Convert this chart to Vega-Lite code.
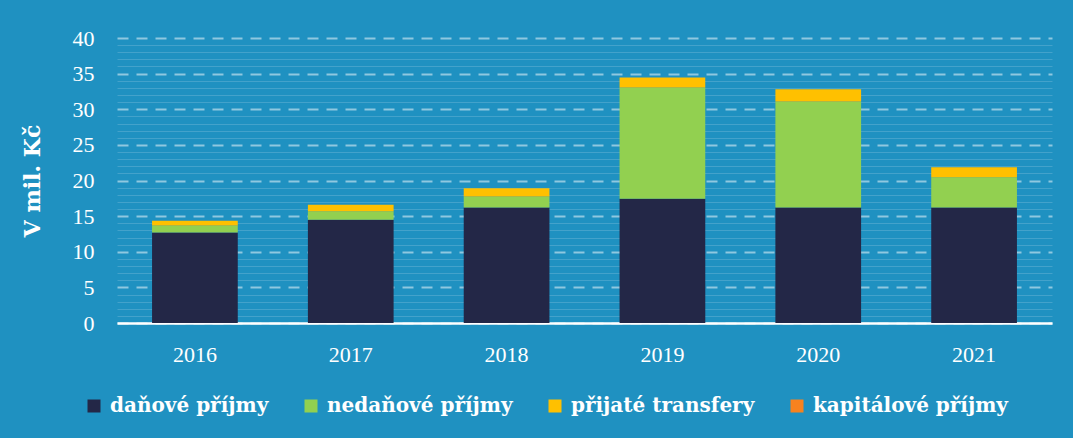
{
  "$schema": "https://vega.github.io/schema/vega-lite/v6.json",
  "width": 935,
  "height": 285,
  "autosize": {"type": "none"},
  "padding": {"left": 117, "top": 38, "right": 21, "bottom": 115},
  "background": "#1F91C1",
  "config": {"view": {"stroke": null}},
  "data": {
    "values": [
      {"rok": "2016", "kategorie": "daňové příjmy", "hodnota": 12.7},
      {"rok": "2016", "kategorie": "nedaňové příjmy", "hodnota": 1.0},
      {"rok": "2016", "kategorie": "přijaté transfery", "hodnota": 0.65},
      {"rok": "2016", "kategorie": "kapitálové příjmy", "hodnota": 0},
      {"rok": "2017", "kategorie": "daňové příjmy", "hodnota": 14.5},
      {"rok": "2017", "kategorie": "nedaňové příjmy", "hodnota": 1.2},
      {"rok": "2017", "kategorie": "přijaté transfery", "hodnota": 0.9},
      {"rok": "2017", "kategorie": "kapitálové příjmy", "hodnota": 0},
      {"rok": "2018", "kategorie": "daňové příjmy", "hodnota": 16.2},
      {"rok": "2018", "kategorie": "nedaňové příjmy", "hodnota": 1.55},
      {"rok": "2018", "kategorie": "přijaté transfery", "hodnota": 1.15},
      {"rok": "2018", "kategorie": "kapitálové příjmy", "hodnota": 0},
      {"rok": "2019", "kategorie": "daňové příjmy", "hodnota": 17.45},
      {"rok": "2019", "kategorie": "nedaňové příjmy", "hodnota": 15.6},
      {"rok": "2019", "kategorie": "přijaté transfery", "hodnota": 1.4},
      {"rok": "2019", "kategorie": "kapitálové příjmy", "hodnota": 0},
      {"rok": "2020", "kategorie": "daňové příjmy", "hodnota": 16.2},
      {"rok": "2020", "kategorie": "nedaňové příjmy", "hodnota": 14.9},
      {"rok": "2020", "kategorie": "přijaté transfery", "hodnota": 1.7},
      {"rok": "2020", "kategorie": "kapitálové příjmy", "hodnota": 0},
      {"rok": "2021", "kategorie": "daňové příjmy", "hodnota": 16.2},
      {"rok": "2021", "kategorie": "nedaňové příjmy", "hodnota": 4.25},
      {"rok": "2021", "kategorie": "přijaté transfery", "hodnota": 1.4},
      {"rok": "2021", "kategorie": "kapitálové příjmy", "hodnota": 0}
    ]
  },
  "mark": {"type": "bar"},
  "encoding": {
    "x": {
      "field": "rok",
      "type": "nominal",
      "scale": {"paddingInner": 0.45, "paddingOuter": 0.225},
      "axis": {
        "title": null,
        "labelAngle": 0,
        "labelFont": "Liberation Serif",
        "labelFontSize": 22,
        "labelColor": "white",
        "labelPadding": 21,
        "ticks": false,
        "domainColor": "white",
        "domainWidth": 2.5,
        "grid": false
      }
    },
    "y": {
      "field": "hodnota",
      "type": "quantitative",
      "stack": "zero",
      "scale": {"domain": [0, 40], "nice": false},
      "axis": {
        "title": "V mil. Kč",
        "titleFont": "DejaVu Serif",
        "titleFontWeight": "bold",
        "titleFontSize": 22,
        "titleColor": "white",
        "titlePadding": 28,
        "values": [0,1,2,3,4,5,6,7,8,9,10,11,12,13,14,15,16,17,18,19,20,21,22,23,24,25,26,27,28,29,30,31,32,33,34,35,36,37,38,39,40],
        "labelExpr": "datum.value % 5 === 0 ? datum.label : ''",
        "labelFont": "Liberation Serif",
        "labelFontSize": 22,
        "labelColor": "white",
        "labelPadding": 23,
        "ticks": false,
        "domain": false,
        "grid": true,
        "gridColor": {"condition": {"test": "datum.value % 5 === 0", "value": "rgba(255,255,255,0.5)"}, "value": "rgba(255,255,255,0.16)"},
        "gridWidth": {"condition": {"test": "datum.value % 5 === 0", "value": 2}, "value": 1},
        "gridDash": {"condition": {"test": "datum.value % 5 === 0", "value": [11, 8]}, "value": []}
      }
    },
    "color": {
      "field": "kategorie",
      "type": "nominal",
      "scale": {
        "domain": ["daňové příjmy", "nedaňové příjmy", "přijaté transfery", "kapitálové příjmy"],
        "range": ["#232747", "#92D050", "#FFC000", "#F7821F"]
      },
      "legend": {
        "title": null,
        "orient": "none",
        "direction": "horizontal",
        "columns": 4,
        "legendX": -33,
        "legendY": 358,
        "symbolType": "square",
        "symbolSize": 169,
        "symbolStrokeWidth": 0,
        "symbolOpacity": 1,
        "labelFont": "DejaVu Serif",
        "labelFontWeight": "bold",
        "labelFontSize": 20,
        "labelColor": "white",
        "labelOffset": 6,
        "columnPadding": 32,
        "labelLimit": 400
      }
    },
    "order": {"field": "kategorie", "type": "nominal", "sort": "ascending"}
  }
}
